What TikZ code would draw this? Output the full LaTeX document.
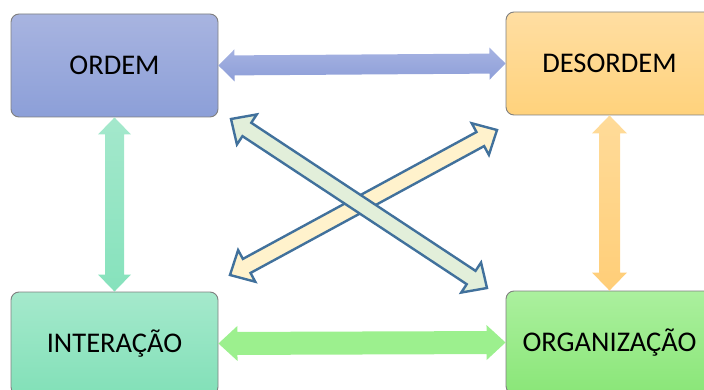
\documentclass[tikz,border=0pt]{standalone}
\usepackage{fontspec}
\setmainfont{Carlito}
\usetikzlibrary{calc}
\definecolor{outl}{HTML}{41719C}
\definecolor{boxline}{HTML}{7F7F7F}
\newcommand\dblarrow[6]{%
\path (#2) coordinate (tA) (#3) coordinate (tB);
\path ($(tA)!#4!(tB)$) coordinate (hA) ($(tB)!#4!(tA)$) coordinate (hB);
\path[#1] (tA) -- ($(hA)!#5!90:(tB)$) -- ($(hA)!#6!90:(tB)$) -- ($(hB)!#6!-90:(tA)$) -- ($(hB)!#5!-90:(tA)$) -- (tB) -- ($(hB)!#5!90:(tA)$) -- ($(hB)!#6!90:(tA)$) -- ($(hA)!#6!-90:(tB)$) -- ($(hA)!#5!-90:(tB)$) -- cycle;
}
\tikzset{
  boxnode/.style={draw=boxline, line width=0.9pt, rounded corners=8pt, minimum width=207pt, minimum height=103pt, inner sep=0pt, font=\fontsize{28.5}{32}\selectfont, text=black},
  crossarrow/.style={draw=outl, line width=2.4pt, line join=miter},
}
\begin{document}
\begin{tikzpicture}[x=1pt,y=-1pt]
\useasboundingbox (0,0) rectangle (704,390);
\clip (0,0) rectangle (704,390);
\node[boxnode, top color={rgb,255:red,168;green,180;blue,224}, bottom color={rgb,255:red,140;green,159;blue,216}] (ordem) at (114.5,65.5) {ORDEM};
\node[boxnode, top color={rgb,255:red,255;green,222;blue,162}, bottom color={rgb,255:red,255;green,210;blue,124}] (desordem) at (609.5,63.5) {DESORDEM};
\node[boxnode, top color={rgb,255:red,165;green,233;blue,204}, bottom color={rgb,255:red,130;green,224;blue,184}] (interacao) at (114.5,343.5) {INTERAÇÃO};
\node[boxnode, top color={rgb,255:red,171;green,240;blue,158}, bottom color={rgb,255:red,138;green,230;blue,120}] (organizacao) at (609.5,342.5) {ORGANIZAÇÃO};
% straight arrows
\dblarrow{top color={rgb,255:red,166;green,179;blue,226}, bottom color={rgb,255:red,141;green,158;blue,216}}{ordem.east}{desordem.west}{16pt}{16pt}{10pt}
\dblarrow{fill={rgb,255:red,156;green,240;blue,142}}{interacao.east}{organizacao.west}{19pt}{17.5pt}{11.5pt}
\dblarrow{top color={rgb,255:red,164;green,232;blue,204}, bottom color={rgb,255:red,134;green,226;blue,188}}{ordem.south}{interacao.north}{17pt}{16.5pt}{9.5pt}
\dblarrow{top color={rgb,255:red,255;green,219;blue,153}, bottom color={rgb,255:red,255;green,206;blue,120}}{desordem.south}{organizacao.north}{18pt}{17.5pt}{10.5pt}
% crossing arrows
\coordinate (obl) at (230,275);
\coordinate (otr) at (497,130);
\coordinate (gtl) at (231,119);
\coordinate (gbr) at (487,288);
\dblarrow{crossarrow, fill={rgb,255:red,255;green,242;blue,204}}{obl}{otr}{19pt}{18pt}{8pt}
\dblarrow{crossarrow, fill={rgb,255:red,226;green,239;blue,218}}{gtl}{gbr}{19pt}{18pt}{8pt}
\end{tikzpicture}
\end{document}
